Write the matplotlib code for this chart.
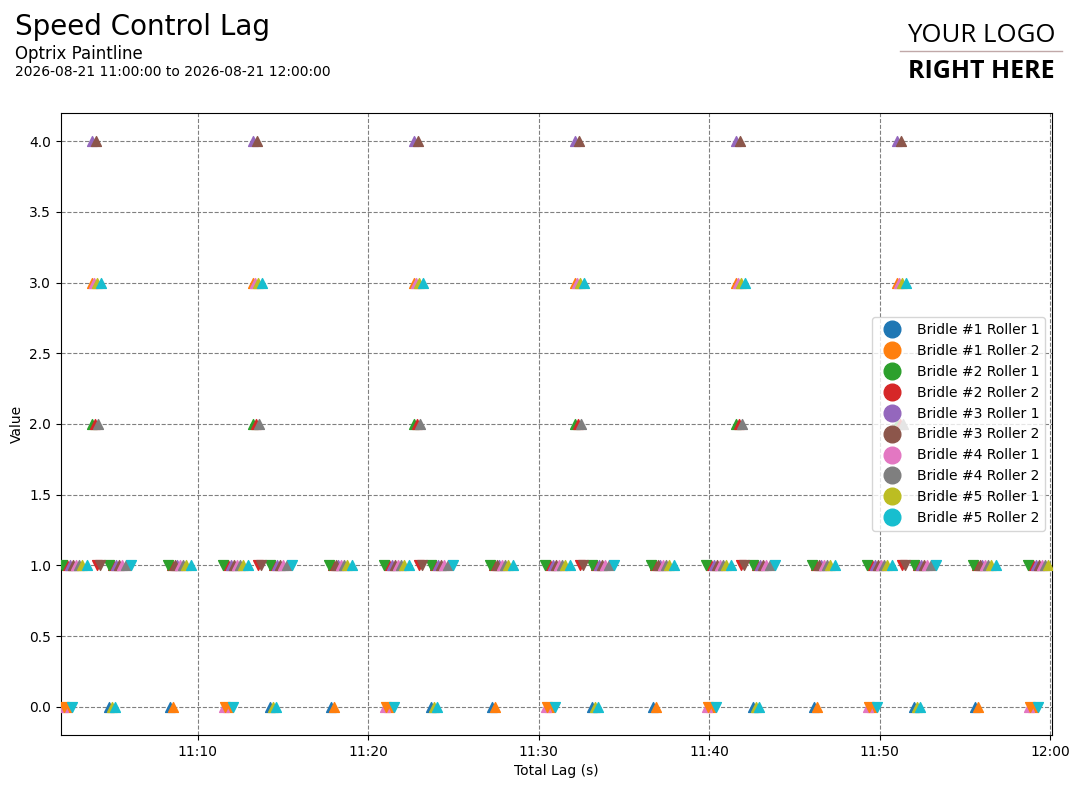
import pandas as pd
import matplotlib
matplotlib.use("Agg")
import matplotlib.pyplot as plt
import matplotlib.dates as mdates
from matplotlib.lines import Line2D

ARQ_FIG = "out.png"
INICIO = pd.Timestamp("2026-08-21 11:00:00")

SERIES = [
    "Bridle #1 Roller 1", "Bridle #1 Roller 2",
    "Bridle #2 Roller 1", "Bridle #2 Roller 2",
    "Bridle #3 Roller 1", "Bridle #3 Roller 2",
    "Bridle #4 Roller 1", "Bridle #4 Roller 2",
    "Bridle #5 Roller 1", "Bridle #5 Roller 2",
]

# segundos depois das 11:00:00, valor e sentido (+1 subida, -1 descida)
b1r1_t = [287, 502, 853, 1068, 1420, 1635, 1987, 2202, 2554, 2769, 3121, 3336]
b1r1_v = [0, 0, 0, 0, 0, 0, 0, 0, 0, 0, 0, 0]
b1r1_d = [1, 1, 1, 1, 1, 1, 1, 1, 1, 1, 1, 1]

b1r2_t = [129, 139, 227, 512, 695, 705, 793, 1078, 1262, 1272, 1360, 1645,
          1829, 1839, 1927, 2212, 2396, 2406, 2494, 2779, 2963, 2973, 3061, 3346,
          3530, 3540]
b1r2_v = [0, 0, 3, 0, 0, 0, 3, 0, 0, 0, 3, 0,
          0, 0, 3, 0, 0, 0, 3, 0, 0, 0, 3, 0,
          0, 0]
b1r2_d = [-1, 1, 1, 1, -1, 1, 1, 1, -1, 1, 1, 1,
          -1, 1, 1, 1, -1, 1, 1, 1, -1, 1, 1, 1,
          -1, 1]

b2r1_t = [122, 227, 287, 495, 688, 793, 853, 1061, 1255, 1360, 1420, 1628,
          1822, 1927, 1987, 2195, 2389, 2494, 2554, 2762, 2956, 3061, 3121, 3329,
          3523]
b2r1_v = [1, 2, 1, 1, 1, 2, 1, 1, 1, 2, 1, 1,
          1, 2, 1, 1, 1, 2, 1, 1, 1, 2, 1, 1,
          1]
b2r1_d = [-1, 1, -1, -1, -1, 1, -1, -1, -1, 1, -1, -1,
          -1, 1, -1, -1, -1, 1, -1, -1, -1, 1, -1, -1,
          -1]

b2r2_t = [139, 238, 245, 301, 509, 705, 804, 811, 867, 1075,
          1272, 1371, 1378, 1434, 1642, 1839, 1938, 1945, 2001, 2209,
          2406, 2505, 2512, 2568, 2776, 2973, 3072, 3079, 3135, 3343,
          3540]
b2r2_v = [1, 2, 1, 1, 1, 1, 2, 1, 1, 1,
          1, 2, 1, 1, 1, 1, 2, 1, 1, 1,
          1, 2, 1, 1, 1, 1, 2, 1, 1, 1,
          1]
b2r2_d = [1, 1, -1, 1, 1, 1, 1, -1, 1, 1,
          1, 1, -1, 1, 1, 1, 1, -1, 1, 1,
          1, 1, -1, 1, 1, 1, 1, -1, 1, 1,
          1]

b3r1_t = [150, 227, 312, 526, 716, 793, 878, 1092, 1283, 1360, 1445, 1659,
          1850, 1927, 2012, 2226, 2417, 2494, 2579, 2793, 2984, 3061, 3146, 3360,
          3551]
b3r1_v = [1, 4, 1, 1, 1, 4, 1, 1, 1, 4, 1, 1,
          1, 4, 1, 1, 1, 4, 1, 1, 1, 4, 1, 1,
          1]
b3r1_d = [1] * 25

b3r2_t = [160, 241, 255, 322, 519, 726, 807, 821, 888, 1085,
          1293, 1374, 1388, 1455, 1652, 1860, 1941, 1955, 2022, 2219,
          2427, 2508, 2522, 2589, 2786, 2994, 3075, 3089, 3156, 3353,
          3561]
b3r2_v = [1, 4, 1, 1, 1, 1, 4, 1, 1, 1,
          1, 4, 1, 1, 1, 1, 4, 1, 1, 1,
          1, 4, 1, 1, 1, 1, 4, 1, 1, 1,
          1]
b3r2_d = [1, 1, -1, 1, 1, 1, 1, -1, 1, 1,
          1, 1, -1, 1, 1, 1, 1, -1, 1, 1,
          1, 1, -1, 1, 1, 1, 1, -1, 1, 1,
          1]

b4r1_t = [125, 171, 234, 333, 537, 691, 737, 800, 899, 1103,
          1258, 1304, 1367, 1466, 1670, 1825, 1871, 1934, 2033, 2237,
          2392, 2438, 2501, 2600, 2804, 2959, 3005, 3068, 3167, 3371,
          3526, 3572]
b4r1_v = [0, 1, 3, 1, 1, 0, 1, 3, 1, 1,
          0, 1, 3, 1, 1, 0, 1, 3, 1, 1,
          0, 1, 3, 1, 1, 0, 1, 3, 1, 1,
          0, 1]
b4r1_d = [1] * 32

b4r2_t = [181, 248, 347, 548, 747, 814, 913, 1114, 1314, 1381, 1480, 1681,
          1881, 1948, 2047, 2248, 2448, 2515, 2614, 2815, 3015, 3082, 3181, 3382,
          3582]
b4r2_v = [1, 2, 1, 1, 1, 2, 1, 1, 1, 2, 1, 1,
          1, 2, 1, 1, 1, 2, 1, 1, 1, 2, 1, 1,
          1]
b4r2_d = [1] * 25

b5r1_t = [192, 245, 298, 558, 758, 811, 864, 1124, 1325, 1378, 1431, 1691,
          1892, 1945, 1998, 2258, 2459, 2512, 2565, 2825, 3026, 3079, 3132, 3392,
          3593]
b5r1_v = [1, 3, 0, 1, 1, 3, 0, 1, 1, 3, 0, 1,
          1, 3, 0, 1, 1, 3, 0, 1, 1, 3, 0, 1,
          1]
b5r1_d = [1] * 25

b5r2_t = [157, 210, 259, 308, 365, 576, 723, 776, 825, 874, 931, 1142,
          1290, 1343, 1392, 1441, 1498, 1709, 1857, 1910, 1959, 2008, 2065, 2276,
          2424, 2477, 2526, 2575, 2632, 2843, 2991, 3044, 3093, 3142, 3199, 3410,
          3558]
b5r2_v = [0, 1, 3, 0, 1, 1, 0, 1, 3, 0, 1, 1,
          0, 1, 3, 0, 1, 1, 0, 1, 3, 0, 1, 1,
          0, 1, 3, 0, 1, 1, 0, 1, 3, 0, 1, 1,
          0]
b5r2_d = [-1, 1, 1, 1, -1, 1, -1, 1, 1, 1, -1, 1,
          -1, 1, 1, 1, -1, 1, -1, 1, 1, 1, -1, 1,
          -1, 1, 1, 1, -1, 1, -1, 1, 1, 1, -1, 1,
          -1]

DADOS = [
    (b1r1_t, b1r1_v, b1r1_d), (b1r2_t, b1r2_v, b1r2_d),
    (b2r1_t, b2r1_v, b2r1_d), (b2r2_t, b2r2_v, b2r2_d),
    (b3r1_t, b3r1_v, b3r1_d), (b3r2_t, b3r2_v, b3r2_d),
    (b4r1_t, b4r1_v, b4r1_d), (b4r2_t, b4r2_v, b4r2_d),
    (b5r1_t, b5r1_v, b5r1_d), (b5r2_t, b5r2_v, b5r2_d),
]

X_MIN = pd.Timestamp("2026-08-21 11:01:58")
X_MAX = pd.Timestamp("2026-08-21 12:00:07")


def montar_df() -> pd.DataFrame:
    partes = []
    for nome, (t, v, d) in zip(SERIES, DADOS):
        partes.append(pd.DataFrame({
            "serie": nome,
            "tempo": INICIO + pd.to_timedelta(t, unit="s"),
            "valor": v,
            "sentido": d,
        }))
    return pd.concat(partes, ignore_index=True)


def gerar_grafico(df: pd.DataFrame, caminho_fig: str = ARQ_FIG) -> None:
    fig = plt.figure(figsize=(10.81, 7.88), dpi=100)
    ax = fig.add_axes([0.0564, 0.0673, 0.9168, 0.7893])
    cores = plt.get_cmap("tab10").colors

    # primeiro todas as subidas, depois as descidas por cima
    for sentido, marc in [(1, "^"), (-1, "v")]:
        for i, nome in enumerate(SERIES):
            s = df[(df["serie"] == nome) & (df["sentido"] == sentido)]
            ax.scatter(s["tempo"], s["valor"], marker=marc, s=50,
                       color=cores[i], zorder=3)

    ax.set_xlim(X_MIN, X_MAX)
    ax.set_ylim(-0.2, 4.2)
    ax.set_yticks([0, 0.5, 1, 1.5, 2, 2.5, 3, 3.5, 4])
    ax.yaxis.set_major_formatter(plt.FormatStrFormatter("%.1f"))
    ax.xaxis.set_major_locator(mdates.MinuteLocator(byminute=range(0, 60, 10)))
    ax.xaxis.set_major_formatter(mdates.DateFormatter("%H:%M"))
    ax.grid(True, color="gray", linestyle="--", linewidth=0.8)
    ax.set_axisbelow(True)
    ax.set_xlabel("Total Lag (s)")
    ax.set_ylabel("Value")

    alcas = [Line2D([], [], marker="o", linestyle="none", markersize=12,
                    color=cores[i], label=nome) for i, nome in enumerate(SERIES)]
    ax.legend(handles=alcas, loc="center right", fontsize=10)

    fig.text(0.014, 0.966, "Speed Control Lag", fontsize=20, va="center")
    fig.text(0.014, 0.931, "Optrix Paintline", fontsize=12, va="center")
    fig.text(0.014, 0.909, "2026-08-21 11:00:00 to 2026-08-21 12:00:00",
             fontsize=10, va="center")

    fig.text(0.9075, 0.955, "YOUR LOGO", fontsize=18.5, family="Open Sans",
             ha="center", va="center")
    fig.add_artist(Line2D([0.833, 0.982], [0.935, 0.935], color="#c0a8a8",
                          linewidth=1, transform=fig.transFigure))
    fig.text(0.9075, 0.909, "RIGHT HERE", fontsize=18, family="Open Sans",
             fontweight="bold", ha="center", va="center")

    fig.savefig(caminho_fig, dpi=100)
    plt.close(fig)


def main():
    df = montar_df()
    gerar_grafico(df)


if __name__ == "__main__":
    main()
